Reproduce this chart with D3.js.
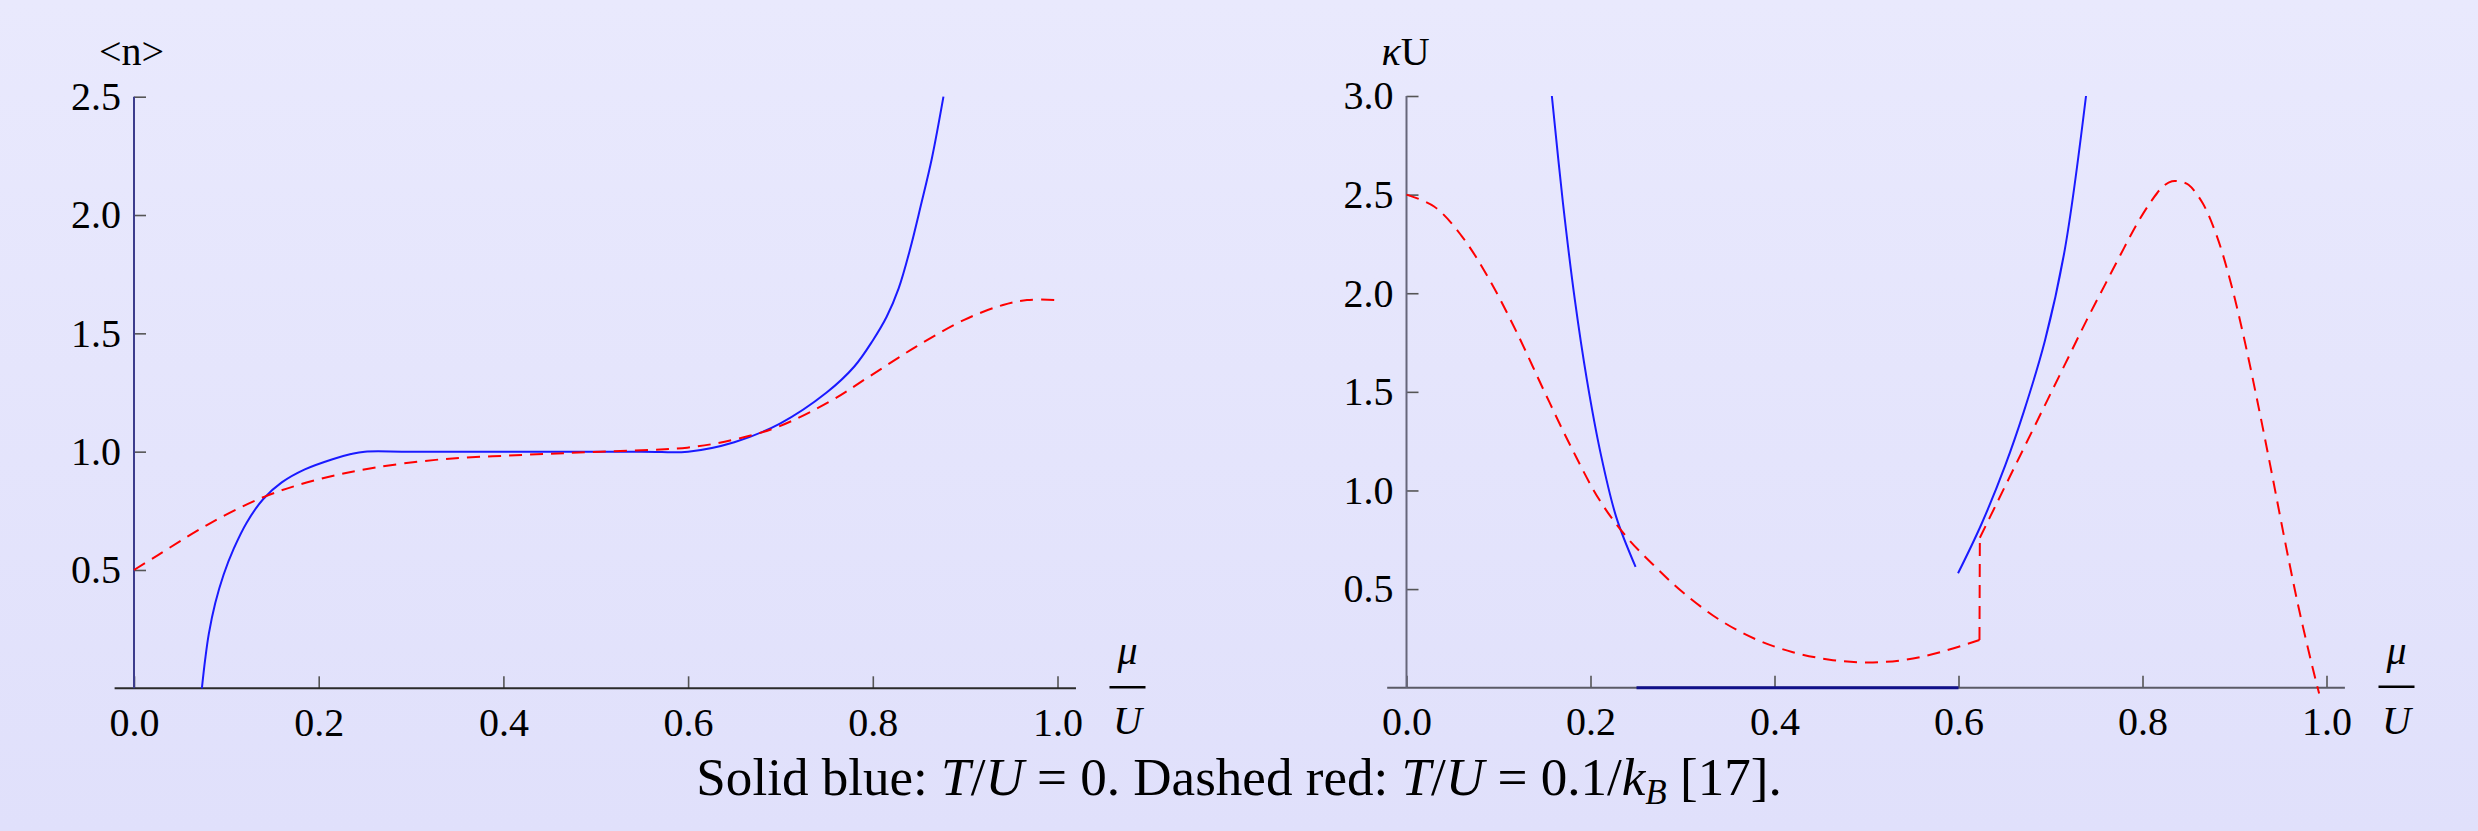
<!DOCTYPE html>
<html>
<head>
<meta charset="utf-8">
<script src="https://cdn.jsdelivr.net/npm/d3@7"></script>
<style>
  body { margin: 0; overflow: hidden; }
  svg text { font-family: "Liberation Serif", "DejaVu Serif", serif; fill: #000; }
</style>
</head>
<body>
<div id="chart"></div>
<script>
// ---- data ----
// left panel: <n> against mu/U
var nMuBlue = [0.0735, 0.077, 0.081, 0.088, 0.097, 0.108, 0.122, 0.140, 0.160, 0.185, 0.215, 0.235, 0.250, 0.30, 0.55,
               0.600, 0.650, 0.700, 0.750, 0.780, 0.800, 0.815, 0.828, 0.840, 0.852, 0.864, 0.8765];
var nBlue   = [0, 0.12, 0.23, 0.36, 0.48, 0.59, 0.70, 0.80, 0.87, 0.925, 0.968, 0.99, 1.0, 1.0, 1.0,
               1.0, 1.04, 1.12, 1.25, 1.36, 1.47, 1.57, 1.69, 1.85, 2.04, 2.24, 2.5];
var nMuRed  = [0, 0.026, 0.079, 0.1415, 0.197, 0.257, 0.334, 0.420, 0.505, 0.599, 0.651, 0.698, 0.753, 0.796, 0.847, 0.899, 0.941, 0.967, 0.997];
var nRed    = [0.5, 0.563, 0.690, 0.810, 0.880, 0.930, 0.968, 0.986, 1.0, 1.017, 1.052, 1.106, 1.211, 1.317, 1.444, 1.557, 1.620, 1.641, 1.641];

// right panel: kappa*U against mu/U
var kMuBlueA = [0.158, 0.170, 0.183, 0.196, 0.211, 0.228, 0.249];
var kBlueA   = [3.0, 2.46, 1.966, 1.563, 1.188, 0.865, 0.613];
var kMuBlueM = [0.25, 0.60];
var kBlueM   = [0, 0];
var kMuBlueB = [0.5995, 0.625, 0.651, 0.671, 0.694, 0.7155, 0.7386];
var kBlueB   = [0.58, 0.83, 1.13, 1.40, 1.76, 2.22, 3.0];
var kMuRedA = [0, 0.03, 0.06, 0.09, 0.12, 0.15, 0.18, 0.21, 0.24, 0.27, 0.30, 0.34, 0.38, 0.42, 0.46, 0.50, 0.54, 0.58, 0.6228];
var kRedA   = [2.5, 2.44, 2.29, 2.07, 1.80, 1.50, 1.21, 0.95, 0.76, 0.615, 0.485, 0.345, 0.245, 0.18, 0.142, 0.128, 0.14, 0.18, 0.242];
var kMuRedB = [0.6232, 0.64, 0.66, 0.68, 0.70, 0.72, 0.74, 0.76, 0.78, 0.795, 0.81, 0.822, 0.832, 0.842, 0.85, 0.865, 0.88, 0.895, 0.91, 0.925, 0.94, 0.955, 0.97, 0.985, 0.992];
var kRedB   = [0.76, 0.92, 1.11, 1.30, 1.49, 1.68, 1.87, 2.05, 2.23, 2.36, 2.47, 2.54, 2.568, 2.565, 2.55, 2.46, 2.30, 2.07, 1.78, 1.45, 1.10, 0.74, 0.40, 0.10, -0.03];

var xTicks = [0, 0.2, 0.4, 0.6, 0.8, 1.0];
var nTicks = [0.5, 1.0, 1.5, 2.0, 2.5];
var kTicks = [0.5, 1.0, 1.5, 2.0, 2.5, 3.0];

// ---- page ----
var W = 2478, H = 831;
var svg = d3.select("#chart").append("svg")
	.attr("width", W)
	.attr("height", H)
	.attr("font-family", "Liberation Serif");

var grad = svg.append("defs").append("linearGradient")
	.attr("id", "bg")
	.attr("x1", 0).attr("y1", 0).attr("x2", 0).attr("y2", 1);
grad.append("stop").attr("offset", "0%").attr("stop-color", "#e9e9fd");
grad.append("stop").attr("offset", "100%").attr("stop-color", "#e0e0fb");
svg.append("rect").attr("width", W).attr("height", H).attr("fill", "url(#bg)");

function zip(xs, ys) {
	return xs.map(function (v, i) { return [v, ys[i]]; });
}

function panel(cfg) {
	var x = d3.scaleLinear().domain([0, 1]).range([cfg.x0, cfg.x1]);
	var y = d3.scaleLinear().domain([0, cfg.yMax]).range([cfg.yb, cfg.yt]);
	var g = svg.append("g");

	// minor ticks
	var xMinor = d3.range(0, 21).map(function (i) { return i * 0.05; }).filter(function (v, i) { return i % 4 != 0; });
	var yMinor = d3.range(1, Math.round(cfg.yMax * 10)).map(function (i) { return i / 10; }).filter(function (v, i) { return (i + 1) % 5 != 0; });

	var xa = g.append("g").attr("transform", "translate(0," + cfg.yb + ")");
	xa.call(d3.axisBottom(x).tickValues(xMinor).tickSize(-7).tickFormat(""));
	xa.call(d3.axisBottom(x).tickValues(xTicks).tickSize(-12).tickPadding(19).tickFormat(d3.format(".1f")));
	xa.selectAll(".domain").remove();

	var ya = g.append("g").attr("transform", "translate(" + cfg.x0 + ",0)");
	ya.call(d3.axisLeft(y).tickValues(yMinor).tickSize(-7).tickFormat(""));
	ya.call(d3.axisLeft(y).tickValues(cfg.yTicks).tickSize(-12).tickPadding(13).tickFormat(d3.format(".1f")));
	ya.selectAll(".domain").remove();
	xa.attr("font-family", "Liberation Serif");
	ya.attr("font-family", "Liberation Serif");

	g.selectAll(".tick line").attr("stroke", "#555").attr("stroke-width", 1.6);
	g.selectAll(".tick text")
		.attr("font-size", 40)
		.attr("font-family", "Liberation Serif")
		.attr("fill", "#000");

	// axis lines
	g.append("line")
		.attr("x1", x(-0.021)).attr("x2", x(1.02))
		.attr("y1", cfg.yb).attr("y2", cfg.yb)
		.attr("stroke", cfg.xAxisColor).attr("stroke-width", 2);
	g.append("line")
		.attr("x1", cfg.x0).attr("x2", cfg.x0)
		.attr("y1", cfg.yb).attr("y2", y(cfg.yMax))
		.attr("stroke", cfg.yAxisColor).attr("stroke-width", 2);

	// axis labels
	g.append("text")
		.attr("x", cfg.x0 + cfg.labelDx).attr("y", 65)
		.attr("font-size", 40)
		.html(cfg.yLabel);

	var fx = x(1.0) + 70;
	g.append("text").attr("x", fx).attr("y", cfg.yb - 24)
		.attr("text-anchor", "middle").attr("font-size", 40).attr("font-style", "italic").text("μ");
	g.append("line")
		.attr("x1", fx - 18).attr("x2", fx + 18)
		.attr("y1", cfg.yb - 1).attr("y2", cfg.yb - 1)
		.attr("stroke", "#000").attr("stroke-width", 2.5);
	g.append("text").attr("x", fx).attr("y", cfg.yb + 46)
		.attr("text-anchor", "middle").attr("font-size", 40).attr("font-style", "italic").text("U");

	return { g: g, x: x, y: y };
}

function curve(p, pts, color, dashed, width) {
	var line = d3.line()
		.x(function (d) { return p.x(d[0]); })
		.y(function (d) { return p.y(d[1]); })
		.curve(d3.curveCatmullRom.alpha(0.5));
	p.g.append("path")
		.attr("d", line(pts))
		.attr("fill", "none")
		.attr("stroke", color)
		.attr("stroke-width", width || 2)
		.attr("stroke-dasharray", dashed ? "13,8" : null);
}

var left = panel({
	x0: 134, x1: 1057.5, yb: 688.3, yt: 96.7, yMax: 2.5, yTicks: nTicks,
	xAxisColor: "#2a2a2a", yAxisColor: "#3c3c8c",
	yLabel: "&lt;n&gt;", labelDx: -35
});
curve(left, zip(nMuBlue, nBlue), "#1a1aff", false);
curve(left, zip(nMuRed, nRed), "#ff0000", true);

var right = panel({
	x0: 1406.5, x1: 2326.5, yb: 687.7, yt: 96, yMax: 3.0, yTicks: kTicks,
	xAxisColor: "#5a5a66", yAxisColor: "#66667a",
	yLabel: "<tspan font-style='italic'>κ</tspan>U", labelDx: -25
});
curve(right, zip(kMuBlueA, kBlueA), "#1a1aff", false);
curve(right, zip(kMuBlueM, kBlueM), "#10108a", false, 3);
curve(right, zip(kMuBlueB, kBlueB), "#1a1aff", false);
curve(right, zip(kMuRedA, kRedA), "#ff0000", true);
curve(right, [[kMuRedA[kMuRedA.length - 1], kRedA[kRedA.length - 1]], [kMuRedB[0], kRedB[0]]], "#ff0000", true);
curve(right, zip(kMuRedB, kRedB), "#ff0000", true);

// caption
var cap = svg.append("text")
	.attr("x", 1239).attr("y", 795)
	.attr("text-anchor", "middle")
	.attr("font-size", 50)
	.attr("fill", "#222");
var parts = [
	["Solid blue: ", ""], ["T", "i"], ["/", ""], ["U", "i"], [" = 0. Dashed red: ", ""],
	["T", "i"], ["/", ""], ["U", "i"], [" = 0.1/", ""], ["k", "i"], ["B", "s"], [" [17].", "r"]
];
parts.forEach(function (p) {
	var t = cap.append("tspan").text(p[0]);
	if (p[1] == "i") t.attr("font-style", "italic");
	if (p[1] == "s") t.attr("font-style", "italic").attr("font-size", 35).attr("dy", 9);
	if (p[1] == "r") t.attr("dy", -9);
});
var wCap = cap.node().getComputedTextLength();
cap.attr("font-size", 50 * 1087 / wCap);
</script>
</body>
</html>
